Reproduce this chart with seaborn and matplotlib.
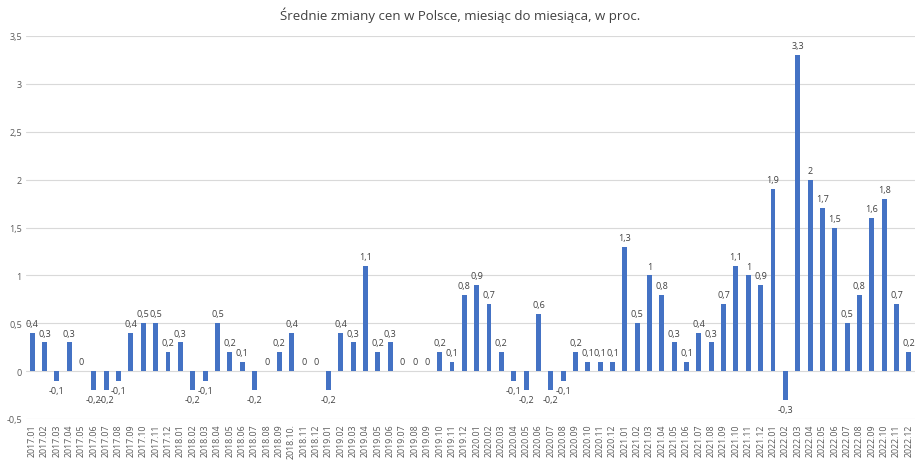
import matplotlib
matplotlib.use("Agg")
import matplotlib.pyplot as plt
import seaborn as sns
import pandas as pd
import numpy as np

months = [f"{y}.{m:02d}" for y in range(2017, 2023) for m in range(1, 13)]
tick_labels = [("2018.10." if s == "2018.10" else s) for s in months]

v2017 = [0.4, 0.3, -0.1, 0.3, 0, -0.2, -0.2, -0.1, 0.4, 0.5, 0.5, 0.2]
v2018 = [0.3, -0.2, -0.1, 0.5, 0.2, 0.1, -0.2, 0, 0.2, 0.4, 0, 0]
v2019 = [-0.2, 0.4, 0.3, 1.1, 0.2, 0.3, 0, 0, 0, 0.2, 0.1, 0.8]
v2020 = [0.9, 0.7, 0.2, -0.1, -0.2, 0.6, -0.2, -0.1, 0.2, 0.1, 0.1, 0.1]
v2021 = [1.3, 0.5, 1, 0.8, 0.3, 0.1, 0.4, 0.3, 0.7, 1.1, 1, 0.9]
v2022 = [1.9, -0.3, 3.3, 2, 1.7, 1.5, 0.5, 0.8, 1.6, 1.8, 0.7, 0.2]
values = v2017 + v2018 + v2019 + v2020 + v2021 + v2022

title = "Średnie zmiany cen w Polsce, miesiąc do miesiąca, w proc."

df = pd.DataFrame({"month": months, "value": values})

sns.set_theme(style="white")
plt.rcParams['font.family'] = ['Open Sans', 'DejaVu Sans']

fig = plt.figure(figsize=(9.2, 4.64), dpi=100)
ax = fig.add_axes([26/920, 1 - 420/464, (915-26)/920, (420-37)/464])

sns.barplot(data=df, x="month", y="value", color="#4472C4", saturation=1,
            width=0.4, linewidth=0, ax=ax, zorder=3)

ax.set_ylim(-0.5, 3.5)
ax.set_xlim(-0.5, len(months) - 0.5)
ax.set_yticks(np.arange(-0.5, 3.51, 0.5))
ax.set_yticklabels([("%g" % t).replace(".", ",") for t in np.arange(-0.5, 3.51, 0.5)],
                   fontsize=6.5, color="#595959")
ax.set_xticks(range(len(months)))
ax.set_xticklabels(tick_labels, rotation=90, fontsize=6.3, color="#595959")
ax.tick_params(axis="both", length=0, pad=3)
ax.grid(axis="y", color="#d9d9d9", linewidth=0.8, zorder=0)
for s in ax.spines.values():
    s.set_visible(False)
ax.set_xlabel("")
ax.set_ylabel("")

labels = [("%g" % v).replace(".", ",") for v in values]
for i, (v, lab) in enumerate(zip(values, labels)):
    if v >= 0:
        ax.annotate(lab, (i, v), xytext=(0, 3.5), textcoords="offset points",
                    ha="center", va="bottom", fontsize=6.5, color="#404040")
    else:
        ax.annotate(lab, (i, v), xytext=(0, -3.5), textcoords="offset points",
                    ha="center", va="top", fontsize=6.5, color="#404040")

fig.text(0.5, 1 - 15/464, title, ha="center", va="center", fontsize=9.5, color="#404040")

fig.savefig("out.png", dpi=100)
